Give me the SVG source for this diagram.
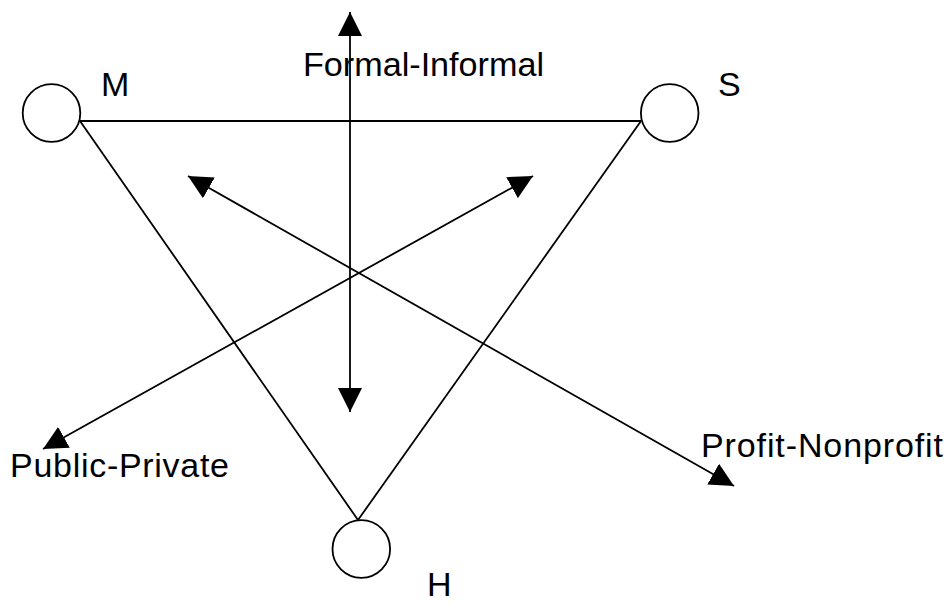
<svg xmlns="http://www.w3.org/2000/svg" width="947" height="604" viewBox="0 0 947 604">
<style>
.ln{stroke:#000;stroke-width:1.8;fill:none}
.nd{stroke:#000;stroke-width:1.8;fill:#fff}
text{font-family:"Liberation Sans",Arial,sans-serif;font-size:34px;fill:#000}
</style>
<defs>
<marker id="ah" markerUnits="userSpaceOnUse" markerWidth="24" markerHeight="24" refX="24" refY="12" orient="auto-start-reverse" viewBox="0 0 24 24">
<path d="M0,0 L24,12 L0,24 z" fill="#000"/>
</marker>
</defs>
<g id="connectors">
<line class="ln" x1="80" y1="121" x2="641" y2="121"/>
<line class="ln" x1="80" y1="121" x2="358" y2="520"/>
<line class="ln" x1="641" y1="121" x2="358" y2="520"/>
<line class="ln" x1="350" y1="12" x2="350" y2="412" marker-start="url(#ah)" marker-end="url(#ah)"/>
<line class="ln" x1="188" y1="176" x2="734" y2="486" marker-start="url(#ah)" marker-end="url(#ah)"/>
<line class="ln" x1="533" y1="176" x2="43" y2="449" marker-start="url(#ah)" marker-end="url(#ah)"/>
</g>
<g id="node-M"><circle class="nd" cx="51.5" cy="113" r="28.8"/><text x="101" y="96">M</text></g>
<g id="node-S"><circle class="nd" cx="669.7" cy="113" r="28.8"/><text x="718" y="96">S</text></g>
<g id="node-H"><circle class="nd" cx="361.3" cy="549" r="28.8"/><text x="427" y="596">H</text></g>
<g id="labels">
<text x="303" y="76" textLength="241" lengthAdjust="spacingAndGlyphs">Formal-Informal</text>
<text x="10" y="477" textLength="219" lengthAdjust="spacing">Public-Private</text>
<text x="701" y="457" textLength="242" lengthAdjust="spacing">Profit-Nonprofit</text>
</g>
</svg>
